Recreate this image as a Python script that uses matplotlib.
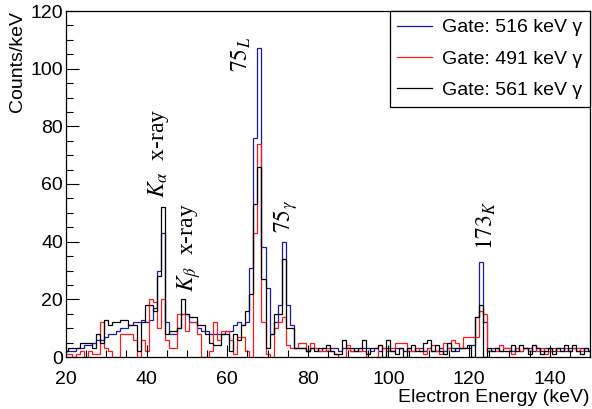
import numpy as np
import matplotlib
matplotlib.use("Agg")
import matplotlib.pyplot as plt

# bin centres (keV), 1 keV bins
energy = np.arange(20, 151)

gate_516 = [2,2,2,3,3,4,4,5,6,6,
            7,8,8,9,10,10,11,12,12,13,
            12,13,17,30,43,12,8,8,10,15,
            15,12,12,10,9,9,8,8,8,8,
            9,9,11,12,11,12,31,76,107,38,
            24,8,12,18,40,18,11,3,3,3,
            2,3,3,2,3,2,3,3,2,3,
            3,2,3,2,3,3,2,3,2,3,
            3,2,3,3,2,3,2,3,3,2,
            3,2,2,3,2,3,3,2,3,3,
            3,4,14,33,12,2,3,3,2,3,
            3,2,3,2,3,3,2,3,2,3,
            3,2,3,3,2,3,3,2,3,2,
            2]

gate_491 = [1,1,0,1,2,0,2,1,1,12,
            3,2,0,0,8,8,8,6,0,6,
            2,20,19,10,20,6,3,3,15,15,
            9,12,12,8,0,0,2,12,6,9,
            9,6,1,7,7,2,0,43,74,12,
            1,0,10,12,14,4,3,3,5,5,
            2,5,3,2,2,3,2,1,0,0,
            4,2,2,2,2,0,0,0,4,3,
            2,3,5,5,5,2,2,3,2,1,
            3,4,2,1,5,3,6,5,3,7,
            7,7,7,16,15,2,2,2,4,3,
            3,1,3,2,3,2,4,2,3,1,
            2,3,2,2,3,2,3,3,2,3,
            2]

gate_561 = [2,3,3,3,5,5,5,3,8,5,
            13,11,12,12,13,13,11,11,2,12,
            18,18,16,28,52,8,9,9,10,20,
            15,14,14,11,11,8,5,4,4,8,
            8,2,8,6,11,16,22,53,66,27,
            3,8,15,15,34,10,10,3,3,3,
            2,3,2,3,3,4,2,1,1,6,
            3,3,2,3,6,1,3,3,4,0,
            6,2,1,3,0,3,4,2,2,5,
            6,2,4,2,1,5,2,3,3,3,
            4,0,14,18,0,3,2,3,2,2,
            2,4,2,4,3,1,4,3,1,2,
            3,1,3,2,4,2,4,2,1,3,
            2]

labels = ["Gate: 516 keV \u03b3", "Gate: 491 keV \u03b3", "Gate: 561 keV \u03b3"]
colors = ["#1a1aa8", "#ff1a1a", "#000000"]

annotations = [
    (43.0, 55.0, r"$K_\alpha$  x-ray"),
    (50.5, 22.5, r"$K_\beta$  x-ray"),
    (63.5, 99.0, r"$75_L$"),
    (74.5, 43.0, r"$75_\gamma$"),
    (124.2, 37.0, r"$173_K$"),
]

plt.rcParams['font.family'] = ['Liberation Sans', 'DejaVu Sans']
plt.rcParams['mathtext.fontset'] = 'stix'

fig = plt.figure(figsize=(5.92, 4.09), dpi=100)
ax = fig.add_axes([66/592, 1-357/409, (590-66)/592, (357-11)/409])

edges = np.append(energy - 0.5, energy[-1] + 0.5)
series = [gate_516, gate_491, gate_561]
for vals, col, lab in zip(series, colors, labels):
    ax.stairs(vals, edges, color=col, lw=0.9, label=lab, baseline=None)

ax.set_xlim(20, 150)
ax.set_ylim(0, 120)
ax.set_xticks(np.arange(20, 150, 20))
ax.set_xticks(np.arange(20, 151, 5), minor=True)
ax.set_yticks(np.arange(0, 121, 20))
ax.set_yticks(np.arange(0, 121, 5), minor=True)
ax.tick_params(which='both', direction='in', top=False, right=False, labelsize=14, width=0.8)
ax.tick_params(axis='x', which='major', length=9, pad=10)
ax.tick_params(axis='y', which='major', length=9, pad=2)
ax.tick_params(which='minor', length=5)
for s in ax.spines.values():
    s.set_linewidth(0.9)

ax.set_xlabel("Electron Energy (keV)", fontsize=14, loc='right', labelpad=1)
ax.set_ylabel("Counts/keV", fontsize=14, loc='top', labelpad=3)

for x, y, t in annotations:
    ax.text(x, y, t, rotation=90, ha='center', va='bottom', fontsize=17,
            family='Liberation Serif')

leg = ax.legend(loc='upper right', fancybox=False, edgecolor='black', fontsize=14,
                borderaxespad=0, handlelength=1.8, handletextpad=0.5,
                labelspacing=0.7, borderpad=0.4, framealpha=1)
leg.get_frame().set_linewidth(0.9)

fig.savefig("out.png", dpi=100)
